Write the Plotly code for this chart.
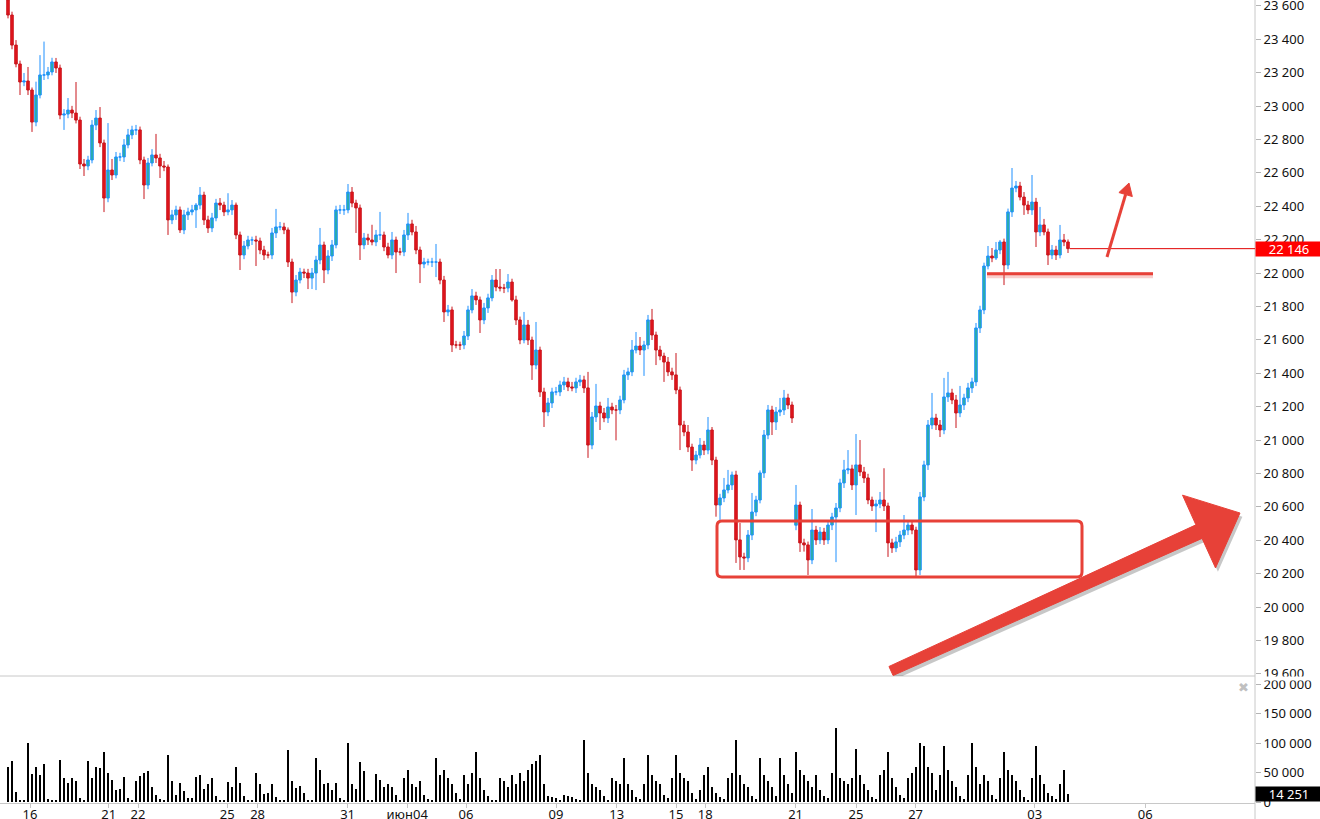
import plotly.graph_objects as go

# ---------------- data (hourly candles) ----------------
closes = [
    23545, 23365, 23252, 23144, 23150, 23096, 22904, 23066, 23186, 23186,
    23204, 23264, 23228, 22946, 22952, 22976, 22958, 22916, 22653, 22641,
    22677, 22886, 22928, 22779, 22449, 22617, 22587, 22695, 22695, 22767,
    22827, 22857, 22857, 22677, 22527, 22659, 22707, 22689, 22641, 22635,
    22318, 22348, 22378, 22258, 22348, 22366, 22378, 22407, 22467, 22318,
    22270, 22330, 22419, 22407, 22366, 22378, 22407, 22228, 22108, 22162,
    22198, 22198, 22192, 22138, 22108, 22108, 22240, 22276, 22276, 22258,
    22066, 21886, 21958, 22006, 22000, 21970, 22000, 22078, 22168, 22018,
    22102, 22168, 22378, 22378, 22378, 22485, 22419, 22390, 22168, 22210,
    22198, 22186, 22228, 22228, 22156, 22108, 22198, 22126, 22126, 22228,
    22294, 22246, 22138, 22054, 22066, 22066, 22066, 22066, 21958, 21767,
    21779, 21569, 21569, 21569, 21623, 21779, 21863, 21839, 21719, 21791,
    21851, 21958, 21916, 21910, 21910, 21946, 21839, 21719, 21599, 21689,
    21599, 21449, 21539, 21288, 21168, 21222, 21288, 21288, 21330, 21348,
    21318, 21312, 21348, 21360, 21312, 20970, 21138, 21204, 21162, 21132,
    21198, 21180, 21180, 21240, 21390, 21408, 21539, 21563, 21539, 21569,
    21719, 21629, 21539, 21503, 21467, 21408, 21390, 21300, 21090, 21048,
    20958, 20880, 20910, 20970, 20940, 21060, 20880, 20611, 20653, 20701,
    20731, 20791, 20402, 20300, 20294, 20431, 20569, 20641, 20803, 21030,
    21180, 21108, 21168, 21180, 21252, 21210, 21132, 20611, 20384, 20372,
    20282, 20461, 20402, 20449, 20402, 20491, 20539, 20593, 20743, 20821,
    20827, 20731, 20851, 20809, 20773, 20641, 20605, 20617, 20641, 20605,
    20384, 20354, 20390, 20431, 20461, 20491, 20461, 20222, 20659, 20851,
    21090, 21132, 21090, 21060, 21258, 21282, 21240, 21162, 21210, 21252,
    21312, 21348, 21671, 21779, 22042, 22102, 22090, 22138, 22186, 22048,
    22366, 22509, 22521, 22455, 22407, 22378, 22425, 22246, 22288, 22246,
    22108, 22138, 22108, 22198, 22186, 22146,
]

opens = [
    23635, 23545, 23365, 23252, 23144, 23150, 23096, 22904, 23066, 23186,
    23186, 23204, 23264, 23228, 22946, 22952, 22976, 22958, 22916, 22653,
    22641, 22677, 22886, 22928, 22779, 22449, 22617, 22587, 22695, 22695,
    22767, 22827, 22857, 22857, 22677, 22527, 22659, 22707, 22689, 22641,
    22635, 22318, 22348, 22378, 22258, 22348, 22366, 22378, 22407, 22467,
    22318, 22270, 22330, 22419, 22407, 22366, 22378, 22407, 22228, 22108,
    22162, 22198, 22198, 22192, 22138, 22108, 22108, 22240, 22276, 22276,
    22258, 22066, 21886, 21958, 22006, 22000, 21970, 22000, 22078, 22168,
    22018, 22102, 22168, 22378, 22378, 22378, 22485, 22419, 22390, 22168,
    22210, 22198, 22186, 22228, 22228, 22156, 22108, 22198, 22126, 22126,
    22228, 22294, 22246, 22138, 22054, 22066, 22066, 22066, 22066, 21958,
    21767, 21779, 21569, 21569, 21569, 21623, 21779, 21863, 21839, 21719,
    21791, 21851, 21958, 21916, 21910, 21910, 21946, 21839, 21719, 21599,
    21689, 21599, 21449, 21539, 21288, 21168, 21222, 21288, 21288, 21330,
    21348, 21318, 21312, 21348, 21360, 21312, 20970, 21138, 21204, 21162,
    21132, 21198, 21180, 21180, 21240, 21390, 21408, 21539, 21563, 21539,
    21569, 21719, 21629, 21539, 21503, 21467, 21408, 21390, 21300, 21090,
    21048, 20958, 20880, 20910, 20970, 20940, 21060, 20880, 20611, 20653,
    20701, 20731, 20791, 20402, 20300, 20294, 20431, 20569, 20641, 20803,
    21030, 21180, 21108, 21168, 21180, 21252, 21210, 20490, 20611, 20384,
    20372, 20282, 20461, 20402, 20449, 20402, 20491, 20539, 20593, 20743,
    20821, 20827, 20731, 20851, 20809, 20773, 20641, 20605, 20617, 20641,
    20605, 20384, 20354, 20390, 20431, 20461, 20491, 20461, 20222, 20659,
    20851, 21090, 21132, 21090, 21060, 21258, 21282, 21240, 21162, 21210,
    21252, 21312, 21348, 21671, 21779, 22042, 22102, 22090, 22138, 22186,
    22048, 22366, 22509, 22521, 22455, 22407, 22378, 22425, 22246, 22288,
    22246, 22108, 22138, 22108, 22198, 22186,
]

# wick lengths above / below the candle body (price points)
upper_wick = [
    0, 20, 30, 20, 48, 84, 15, 80, 119, 200,
    30, 25, 24, 20, 30, 72, 25, 186, 20, 30,
    25, 30, 48, 66, 20, 281, 66, 30, 25, 35,
    36, 25, 30, 20, 20, 30, 35, 126, 25, 30,
    15, 30, 25, 20, 30, 25, 30, 12, 48, 20,
    25, 30, 25, 30, 20, 100, 30, 15, 20, 30,
    25, 20, 25, 20, 25, 20, 30, 108, 30, 25,
    15, 20, 30, 25, 20, 25, 30, 25, 102, 20,
    35, 30, 25, 30, 30, 48, 30, 20, 20, 30,
    25, 91, 30, 138, 20, 25, 48, 20, 25, 30,
    66, 25, 36, 20, 25, 20, 25, 108, 20, 25,
    30, 20, 25, 20, 30, 25, 41, 25, 20, 30,
    25, 30, 66, 108, 25, 48, 20, 25, 20, 78,
    30, 20, 168, 20, 25, 30, 25, 30, 25, 30,
    25, 30, 25, 30, 25, 96, 30, 132, 25, 30,
    54, 25, 30, 25, 30, 25, 60, 84, 54, 25,
    30, 66, 20, 25, 20, 30, 25, 131, 20, 25,
    42, 20, 25, 42, 25, 78, 18, 20, 25, 72,
    90, 20, 25, 101, 25, 30, 114, 25, 15, 30,
    30, 25, 30, 72, 48, 25, 20, 120, 20, 25,
    20, 126, 25, 30, 25, 30, 25, 30, 25, 60,
    113, 25, 185, 149, 30, 25, 20, 25, 48, 190,
    20, 25, 30, 25, 90, 30, 25, 20, 30, 25,
    30, 150, 25, 30, 114, 126, 25, 30, 114, 25,
    30, 25, 30, 25, 20, 60, 48, 48, 12, 20,
    20, 120, 30, 25, 30, 25, 162, 25, 108, 36,
    20, 30, 25, 90, 36, 15,
]
lower_wick = [
    20, 25, 20, 78, 25, 30, 59, 25, 20, 30,
    25, 20, 30, 25, 89, 25, 30, 20, 30, 60,
    25, 20, 30, 25, 84, 25, 30, 20, 25, 30,
    20, 25, 30, 25, 84, 25, 20, 30, 72, 25,
    90, 25, 30, 18, 25, 30, 20, 108, 25, 30,
    30, 25, 20, 30, 25, 20, 30, 25, 90, 25,
    20, 30, 150, 25, 30, 20, 25, 30, 20, 25,
    30, 66, 25, 20, 30, 66, 66, 102, 25, 78,
    25, 30, 20, 25, 30, 20, 25, 150, 90, 25,
    30, 20, 25, 30, 25, 20, 25, 126, 20, 25,
    30, 20, 25, 114, 25, 20, 30, 90, 25, 60,
    25, 42, 20, 30, 25, 24, 20, 30, 78, 25,
    30, 20, 25, 20, 30, 25, 10, 30, 25, 20,
    30, 89, 25, 30, 90, 25, 30, 20, 25, 30,
    25, 20, 30, 25, 30, 77, 25, 30, 102, 25,
    30, 25, 182, 25, 20, 30, 25, 20, 30, 155,
    25, 30, 90, 25, 119, 25, 30, 25, 150, 25,
    30, 65, 25, 20, 30, 25, 30, 70, 96, 25,
    20, 30, 138, 78, 72, 25, 30, 25, 20, 30,
    25, 78, 48, 25, 30, 25, 30, 30, 54, 40,
    90, 25, 30, 25, 30, 25, 30, 270, 25, 30,
    25, 30, 180, 25, 30, 25, 30, 156, 25, 30,
    84, 30, 25, 30, 25, 30, 25, 42, 30, 25,
    30, 25, 30, 42, 25, 30, 25, 90, 25, 30,
    25, 30, 25, 30, 25, 20, 25, 12, 25, 120,
    25, 30, 25, 20, 59, 25, 30, 90, 25, 20,
    60, 25, 30, 20, 25, 26,
]

# volume, thousands of contracts
volume_k = [
    60, 70, 17, 4, 4, 100, 47, 60, 45, 65,
    5, 4, 4, 72, 40, 32, 40, 36, 6, 3,
    70, 40, 60, 58, 85, 50, 38, 20, 22, 42,
    6, 3, 35, 44, 50, 52, 25, 12, 5, 3,
    80, 35, 12, 33, 18, 7, 6, 42, 45, 22,
    30, 40, 10, 3, 3, 34, 26, 60, 33, 10,
    4, 4, 50, 30, 14, 16, 30, 8, 2, 2,
    88, 35, 24, 27, 16, 4, 3, 75, 55, 30,
    32, 20, 32, 6, 3, 100, 30, 22, 68, 52,
    4, 2, 48, 38, 25, 30, 25, 12, 3, 40,
    55, 30, 25, 35, 12, 5, 3, 75, 45, 55,
    40, 30, 15, 5, 45, 30, 50, 85, 40, 20,
    10, 4, 3, 40, 35, 25, 45, 30, 50, 35,
    55, 65, 70, 80, 30, 10, 8, 6, 4, 12,
    10, 8, 5, 4, 105, 50, 30, 25, 20, 10,
    4, 40, 35, 30, 75, 30, 20, 8, 5, 30,
    80, 45, 35, 30, 12, 6, 40, 80, 50, 40,
    35, 15, 5, 20, 45, 60, 25, 15, 8, 5,
    40, 50, 105, 45, 30, 25, 10, 5, 75, 45,
    35, 25, 10, 75, 45, 30, 15, 85, 55, 45,
    35, 25, 45, 20, 10, 6, 50, 125, 40, 35,
    30, 40, 90, 45, 30, 20, 8, 5, 45, 55,
    85, 40, 25, 12, 6, 40, 50, 60, 100, 95,
    60, 50, 20, 45, 95, 55, 35, 25, 10, 5,
    45, 100, 60, 30, 45, 35, 12, 5, 40, 85,
    55, 45, 35, 20, 8, 4, 40, 95, 45, 30,
    15, 10, 5, 30, 55, 14.251,
]

# x-axis date labels and the candle (bar number) where each one sits
tick_labels = ["16", "21", "22", "25", "28", "31", "июн04", "06", "09", "13",
               "15", "18", "21", "25", "27", "03", "06"]
tick_candle = [5.5, 25.2, 32.5, 54.8, 62.4, 84.9, 99.8, 114.5, 137, 152.2,
               167, 174.3, 196.9, 212, 226.9, 256.7, 284.3]

last_price = 22146
last_volume = 14251

# hand-drawn marks on the chart (bar number, price)
support_level = 21995
box_bars = (177.25, 268.5)
box_prices = (20180, 20515)

# ---------------- derived ----------------
n = len(closes)
idx = list(range(n))
highs = [max(o, c) + u for o, c, u in zip(opens, closes, upper_wick)]
lows = [min(o, c) - l for o, c, l in zip(opens, closes, lower_wick)]
volume = [v * 1000 for v in volume_k]

RED = "#e74138"
GRID = "#c8c8c8"
FONT = "Noto Sans, Open Sans, DejaVu Sans, sans-serif"

fig = go.Figure()
fig.add_trace(go.Candlestick(
    x=idx, open=opens, high=highs, low=lows, close=closes,
    increasing=dict(line=dict(color="#1e90ff", width=1), fillcolor="#2bb39a"),
    decreasing=dict(line=dict(color="#c8161d", width=1), fillcolor="#e3141b"),
    whiskerwidth=0, showlegend=False, hoverinfo="skip",
    xaxis="x", yaxis="y",
))
fig.add_trace(go.Bar(
    x=idx, y=volume, marker=dict(color="#000000", line=dict(width=0)),
    width=0.5, showlegend=False, hoverinfo="skip", xaxis="x", yaxis="y2",
))

PRICE_BOTTOM = (803 - 676) / 803
VOL_TOP = (803 - 677) / 803

fig.update_layout(
    width=1320, height=819,
    margin=dict(l=0, r=65, t=0, b=16, autoexpand=False),
    paper_bgcolor="white", plot_bgcolor="white",
    separators=". ",
    font=dict(family=FONT, size=13, color="#111111"),
    boxgap=0.1,
    bargap=0,
    xaxis=dict(
        domain=[0, 1], range=[-2, 311.75], anchor="y2",
        showgrid=False, zeroline=False, showline=True, linecolor=GRID,
        ticks="outside", ticklen=4, tickcolor=GRID,
        tickvals=tick_candle, ticktext=tick_labels,
        ticklabelstandoff=-5,
        tickfont=dict(size=13, color="#111111"),
        rangeslider=dict(visible=False), fixedrange=True,
    ),
    yaxis=dict(
        domain=[PRICE_BOTTOM, 1], range=[19587, 23635], side="right",
        anchor="x", showgrid=False, zeroline=False, showline=False,
        ticks="outside", ticklen=5, tickcolor="#b4b4b4",
        dtick=200, tick0=0, tickformat=",.0f",
        ticklabeloverflow="allow",
        tickfont=dict(size=13, color="#111111"),
    ),
    yaxis2=dict(
        domain=[0, VOL_TOP], range=[-1700, 211900], side="right",
        anchor="x", showgrid=False, zeroline=False, showline=False,
        ticks="outside", ticklen=5, tickcolor="#b4b4b4",
        tickvals=[0, 50000, 100000, 150000, 200000], tickformat=",.0f",
        ticklabeloverflow="allow",
        tickfont=dict(size=13, color="#111111"),
    ),
)

shapes = []
# frame lines
shapes.append(dict(type="line", xref="paper", yref="paper", x0=1, x1=1,
                   y0=-0.03, y1=1, line=dict(color=GRID, width=1), layer="above"))
shapes.append(dict(type="line", xref="paper", yref="paper", x0=0, x1=1,
                   y0=PRICE_BOTTOM, y1=PRICE_BOTTOM,
                   line=dict(color=GRID, width=1), layer="above"))
# the price pane clips its lowest label at the pane border
shapes.append(dict(type="rect", xref="paper", yref="paper", x0=1.002, x1=1.06,
                   y0=(803 - 680.5) / 803, y1=(803 - 676.5) / 803,
                   fillcolor="white", line=dict(width=0), layer="above"))
# last price line
shapes.append(dict(type="line", xref="x", yref="y", x0=n - 0.5, x1=311.75,
                   y0=last_price, y1=last_price,
                   line=dict(color="#e00000", width=1)))

# rounded rectangle around the base
bx0, bx1 = box_bars
by0, by1 = box_prices
rx, ry = 1.2, 30
rect_path = (f"M {bx0+rx},{by1} L {bx1-rx},{by1} Q {bx1},{by1} {bx1},{by1-ry} "
             f"L {bx1},{by0+ry} Q {bx1},{by0} {bx1-rx},{by0} L {bx0+rx},{by0} "
             f"Q {bx0},{by0} {bx0},{by0+ry} L {bx0},{by1-ry} Q {bx0},{by1} {bx0+rx},{by1} Z")
shapes.append(dict(type="path", xref="x", yref="y", path=rect_path,
                   line=dict(color=RED, width=3), layer="above"))

# support line
shapes.append(dict(type="line", xref="x", yref="y", x0=244.75, x1=286.25,
                   y0=support_level - 8, y1=support_level - 8,
                   line=dict(color="rgba(231,65,56,0.25)", width=6)))
shapes.append(dict(type="line", xref="x", yref="y", x0=244.75, x1=286.25,
                   y0=support_level, y1=support_level,
                   line=dict(color=RED, width=3), layer="above"))


def poly(pts):
    return "M " + " L ".join(f"{x},{y}" for x, y in pts) + " Z"


# big arrow
big_arrow = [(220.24, 19644), (296.98, 20492), (293.63, 20670), (308.0, 20563),
             (301.88, 20234), (298.52, 20411), (221.27, 19590)]
shadow = [(x + 0.6, y - 22) for x, y in big_arrow]
shapes.append(dict(type="path", xref="x", yref="y", path=poly(shadow),
                   fillcolor="rgba(0,0,0,0.22)", line=dict(width=0), layer="above"))
shapes.append(dict(type="path", xref="x", yref="y", path=poly(big_arrow),
                   fillcolor=RED, line=dict(color=RED, width=1), layer="above"))

# small arrow
shapes.append(dict(type="line", xref="x", yref="y", x0=274.75, y0=22096,
                   x1=279.4, y1=22470, line=dict(color=RED, width=3), layer="above"))
small_head = [(280.25, 22539), (281.08, 22458), (277.73, 22482)]
shapes.append(dict(type="path", xref="x", yref="y", path=poly(small_head),
                   fillcolor=RED, line=dict(color=RED, width=1), layer="above"))

fig.update_layout(shapes=shapes)

annotations = [
    dict(xref="paper", yref="y", x=1, y=last_price, xanchor="left", yanchor="middle",
         text="22 146", showarrow=False, bgcolor="#ff0000", width=66, height=14,
         borderpad=0, align="center", font=dict(color="white", size=13, family=FONT)),
    dict(xref="paper", yref="y2", x=1, y=last_volume, xanchor="left", yanchor="middle",
         text="14 251", showarrow=False, bgcolor="#000000", width=66, height=14,
         borderpad=0, align="center", font=dict(color="white", size=13, family=FONT)),
    dict(xref="paper", yref="paper", x=1243 / 1255, y=(803 - 687) / 803,
         xanchor="center", yanchor="middle", text="✖", showarrow=False,
         font=dict(color="#c0c0c0", size=13)),
]
fig.update_layout(annotations=annotations)

# remove the browser's default page margin so the figure fills the window
fig.write_html("out.html",
               config={"displayModeBar": False},
               post_script="document.body.style.margin='0';"
                           "document.body.style.overflow='hidden';")
